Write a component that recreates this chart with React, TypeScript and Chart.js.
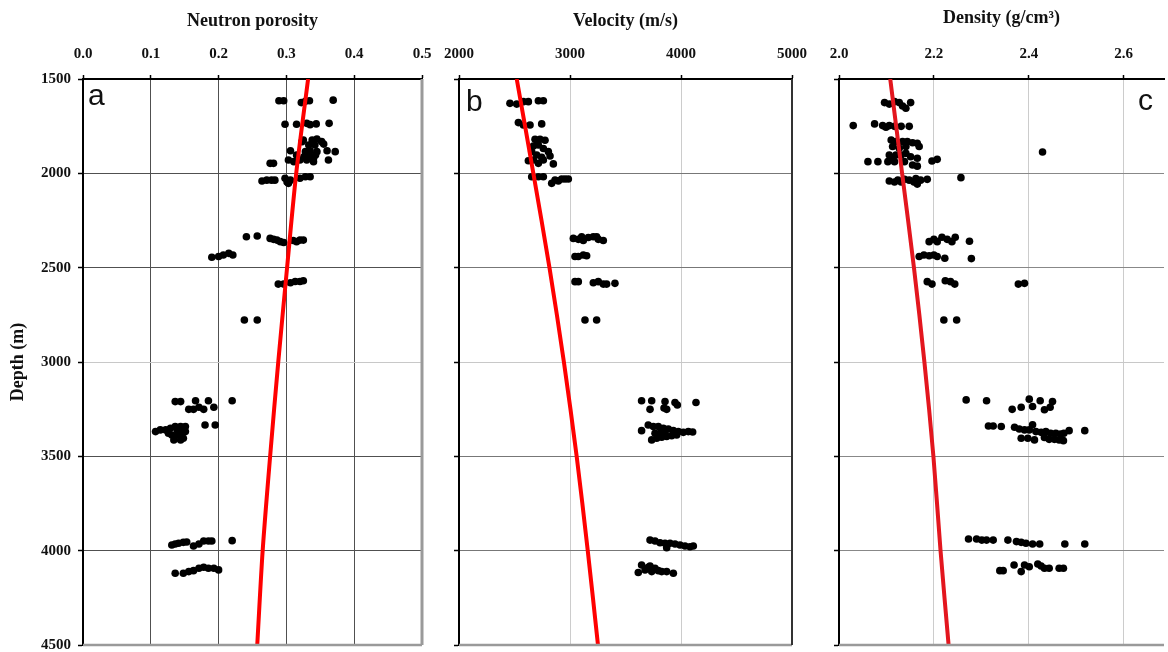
import React, { useEffect, useRef } from 'react';
import { Chart, registerables } from 'chart.js';

Chart.register(...registerables);

// ---------------- DATA ----------------
const depthTicks = [1500, 2000, 2500, 3000, 3500, 4000, 4500];
const porosityTicks = [0, 0.1, 0.2, 0.3, 0.4, 0.5];
const velocityTicks = [2000, 3000, 4000, 5000];
const densityTicks = [2.0, 2.2, 2.4, 2.6];

const trendDepths = [1500, 2000, 2500, 3000, 3500, 4000, 4500];
const porosityTrend = [0.332, 0.3145, 0.301, 0.288, 0.276, 0.265, 0.257];
const velocityTrend = [2520, 2670, 2815, 2945, 3060, 3160, 3252];
const densityTrend = [2.108, 2.133, 2.158, 2.18, 2.199, 2.214, 2.231];

// [value, depth]
const porosityPoints: [number, number][] = [
  [0.289, 1615], [0.296, 1615], [0.322, 1625], [0.328, 1618], [0.334, 1615], [0.369, 1612],
  [0.298, 1740], [0.315, 1740], [0.330, 1735], [0.335, 1742], [0.344, 1738], [0.363, 1735],
  [0.325, 1823], [0.338, 1823], [0.345, 1818], [0.352, 1832], [0.355, 1845], [0.342, 1850], [0.333, 1850], [0.323, 1832],
  [0.306, 1880], [0.315, 1903], [0.328, 1885], [0.335, 1880], [0.345, 1885], [0.360, 1880], [0.372, 1885], [0.362, 1929],
  [0.340, 1920], [0.330, 1929], [0.320, 1929], [0.303, 1929], [0.281, 1947], [0.276, 1947], [0.333, 1903], [0.326, 1912],
  [0.340, 1938], [0.343, 1903], [0.311, 1938],
  [0.264, 2041], [0.271, 2036], [0.278, 2036], [0.283, 2036], [0.298, 2026], [0.301, 2046], [0.303, 2053], [0.306, 2036],
  [0.320, 2026], [0.328, 2018], [0.335, 2018],
  [0.241, 2336], [0.257, 2332], [0.276, 2345], [0.281, 2350], [0.286, 2354], [0.291, 2362], [0.296, 2367], [0.310, 2356],
  [0.315, 2362], [0.320, 2354], [0.325, 2354],
  [0.190, 2445], [0.200, 2441], [0.207, 2433], [0.215, 2424], [0.221, 2433],
  [0.288, 2587], [0.296, 2587], [0.306, 2580], [0.313, 2573], [0.320, 2573], [0.325, 2569],
  [0.238, 2777], [0.257, 2777],
  [0.136, 3210], [0.144, 3210], [0.166, 3205], [0.185, 3205], [0.220, 3205],
  [0.156, 3251], [0.163, 3251], [0.171, 3240], [0.178, 3251], [0.193, 3240],
  [0.180, 3334], [0.195, 3334],
  [0.107, 3369], [0.114, 3360], [0.122, 3360], [0.129, 3351], [0.136, 3342], [0.144, 3342], [0.151, 3342], [0.131, 3387],
  [0.139, 3387], [0.146, 3378], [0.151, 3369], [0.134, 3413], [0.144, 3413], [0.148, 3404], [0.126, 3378], [0.139, 3360], [0.146, 3360],
  [0.131, 3970], [0.136, 3965], [0.141, 3961], [0.148, 3956], [0.153, 3954], [0.163, 3975], [0.171, 3965], [0.178, 3949],
  [0.185, 3949], [0.190, 3949], [0.220, 3947],
  [0.136, 4120], [0.148, 4120], [0.156, 4111], [0.163, 4106], [0.171, 4093], [0.178, 4088], [0.185, 4093], [0.193, 4093], [0.200, 4102],
];

const velocityPoints: [number, number][] = [
  [2459, 1629], [2520, 1633], [2580, 1620], [2625, 1620], [2715, 1615], [2760, 1615],
  [2535, 1731], [2580, 1744], [2640, 1744], [2745, 1738],
  [2685, 1820], [2730, 1820], [2775, 1825], [2670, 1855], [2715, 1850], [2760, 1868], [2805, 1885], [2820, 1908],
  [2655, 1885], [2700, 1903], [2745, 1915], [2625, 1933], [2670, 1929], [2760, 1929], [2850, 1950], [2715, 1947],
  [2655, 2018], [2715, 2018], [2760, 2018], [2835, 2053], [2865, 2035], [2895, 2040], [2925, 2030], [2955, 2030], [2985, 2030],
  [3030, 2345], [3075, 2350], [3120, 2356], [3165, 2340], [3210, 2336], [3255, 2350], [3300, 2356], [3105, 2336], [3240, 2336],
  [3045, 2441], [3075, 2441], [3120, 2433], [3150, 2437],
  [3045, 2574], [3075, 2574], [3210, 2580], [3255, 2574], [3300, 2587], [3330, 2587], [3405, 2583],
  [3135, 2777], [3240, 2777],
  [3645, 3205], [3736, 3205], [3721, 3251], [3856, 3210], [3871, 3251], [3946, 3215], [3967, 3228], [3847, 3244], [4135, 3215],
  [3645, 3364], [3705, 3334], [3751, 3342], [3796, 3342], [3841, 3351], [3886, 3355], [3931, 3364], [3976, 3369], [4021, 3373],
  [4066, 3369], [4105, 3371], [3736, 3413], [3781, 3404], [3826, 3399], [3871, 3395], [3916, 3391], [3961, 3387], [3766, 3378],
  [3811, 3378], [3856, 3378],
  [3721, 3944], [3766, 3949], [3811, 3958], [3856, 3961], [3871, 3984], [3901, 3961], [3946, 3965], [3991, 3970], [4036, 3975],
  [4081, 3979], [4111, 3975],
  [3615, 4116], [3645, 4076], [3676, 4102], [3705, 4088], [3736, 4111], [3766, 4093], [3796, 4106], [3826, 4111], [3871, 4111],
  [3931, 4120], [3721, 4081],
];

const densityPoints: [number, number][] = [
  [2.096, 1625], [2.106, 1633], [2.117, 1620], [2.127, 1625], [2.134, 1643], [2.141, 1655], [2.151, 1625],
  [2.030, 1747], [2.075, 1738], [2.092, 1747], [2.099, 1756], [2.106, 1747], [2.117, 1751], [2.131, 1751], [2.148, 1751],
  [2.110, 1823], [2.120, 1832], [2.134, 1832], [2.144, 1832], [2.155, 1838], [2.165, 1841], [2.113, 1858], [2.127, 1867],
  [2.141, 1858], [2.169, 1858], [2.106, 1903], [2.120, 1903], [2.131, 1903], [2.141, 1894], [2.151, 1912], [2.165, 1920],
  [2.061, 1938], [2.082, 1938], [2.103, 1938], [2.117, 1938], [2.138, 1938], [2.155, 1956], [2.165, 1962], [2.196, 1935],
  [2.207, 1926], [2.113, 1920], [2.429, 1887],
  [2.106, 2041], [2.117, 2046], [2.124, 2036], [2.131, 2046], [2.138, 2032], [2.148, 2036], [2.158, 2046], [2.165, 2057],
  [2.172, 2036], [2.186, 2032], [2.162, 2027], [2.257, 2023],
  [2.190, 2362], [2.200, 2350], [2.207, 2362], [2.217, 2339], [2.228, 2350], [2.238, 2362], [2.245, 2339], [2.275, 2360],
  [2.169, 2441], [2.179, 2433], [2.190, 2437], [2.200, 2433], [2.207, 2441], [2.223, 2450], [2.279, 2452],
  [2.186, 2574], [2.196, 2587], [2.224, 2569], [2.235, 2574], [2.244, 2587], [2.378, 2587], [2.391, 2583],
  [2.221, 2777], [2.248, 2777],
  [2.268, 3201], [2.311, 3205], [2.401, 3197], [2.424, 3205], [2.450, 3210], [2.365, 3251], [2.384, 3240], [2.408, 3236],
  [2.433, 3253], [2.445, 3240],
  [2.315, 3339], [2.325, 3339], [2.342, 3342], [2.370, 3346], [2.380, 3355], [2.391, 3360], [2.401, 3360], [2.408, 3333],
  [2.415, 3369], [2.426, 3373], [2.436, 3369], [2.446, 3378], [2.457, 3378], [2.467, 3382], [2.474, 3378], [2.485, 3364],
  [2.518, 3364], [2.384, 3404], [2.398, 3404], [2.412, 3413], [2.433, 3400], [2.443, 3410], [2.454, 3410], [2.464, 3413], [2.473, 3417],
  [2.273, 3938], [2.290, 3938], [2.301, 3944], [2.311, 3944], [2.325, 3944], [2.356, 3944], [2.374, 3952], [2.384, 3956],
  [2.394, 3961], [2.408, 3965], [2.423, 3965], [2.476, 3965], [2.518, 3965],
  [2.339, 4106], [2.346, 4106], [2.369, 4076], [2.384, 4111], [2.391, 4076], [2.401, 4085], [2.419, 4071], [2.426, 4081],
  [2.433, 4093], [2.443, 4093], [2.464, 4093], [2.473, 4093],
];

// ---------------- STYLE / LAYOUT ----------------
const SERIF = "'Liberation Serif', 'Times New Roman', serif";
const SANS = "'Liberation Sans', Arial, sans-serif";
const H = 652;

interface PanelCfg {
  left: number;
  width: number;
  areaLeft: number;
  areaRight: number;
  xMin: number;
  xMax: number;
  xTicks: number[];
  fmt: (v: number) => string;
  title: string;
  titlePad: number;
  letter: string;
  letterX: number;
  letterY: number;
  showDepth: boolean;
  points: [number, number][];
  trend: number[];
  lineColor: string;
  vGrid: string;
  hGrid: string;
  rightBorder: string | null;
  rightBorderWidth: number;
  bottomBorder: string;
}

const panels: PanelCfg[] = [
  {
    left: 0, width: 440, areaLeft: 83, areaRight: 422,
    xMin: 0, xMax: 0.5, xTicks: porosityTicks, fmt: (v) => v.toFixed(1),
    title: 'Neutron porosity', titlePad: 11,
    letter: 'a', letterX: 88, letterY: 105, showDepth: true,
    points: porosityPoints, trend: porosityTrend, lineColor: '#ff0000',
    vGrid: '#505050', hGrid: '#505050', rightBorder: '#9a9a9a', rightBorderWidth: 3, bottomBorder: '#9a9a9a',
  },
  {
    left: 440, width: 380, areaLeft: 19, areaRight: 352,
    xMin: 2000, xMax: 5000, xTicks: velocityTicks, fmt: (v) => String(Math.round(v)),
    title: 'Velocity (m/s)', titlePad: 11,
    letter: 'b', letterX: 26, letterY: 111, showDepth: false,
    points: velocityPoints, trend: velocityTrend, lineColor: '#ff0000',
    vGrid: '#cccccc', hGrid: '#777777', rightBorder: '#333333', rightBorderWidth: 2, bottomBorder: '#9a9a9a',
  },
  {
    left: 820, width: 348, areaLeft: 19, areaRight: 348,
    xMin: 2.0, xMax: 2.685, xTicks: densityTicks, fmt: (v) => v.toFixed(1),
    title: 'Density (g/cm³)', titlePad: 8,
    letter: 'c', letterX: 318, letterY: 110, showDepth: false,
    points: densityPoints, trend: densityTrend, lineColor: '#e3161e',
    vGrid: '#cccccc', hGrid: '#888888', rightBorder: null, rightBorderWidth: 0, bottomBorder: '#9a9a9a',
  },
];

const TRANSPARENT = 'rgba(0,0,0,0)';

function Panel({ cfg }: { cfg: PanelCfg }) {
  const ref = useRef<HTMLCanvasElement>(null);

  useEffect(() => {
    const canvas = ref.current;
    if (!canvas) return;

    const framePlugin = {
      id: 'frame' + cfg.letter,
      afterDraw(chart: any) {
        const { ctx, chartArea } = chart;
        const { left, right, top, bottom } = chartArea;
        ctx.save();
        ctx.strokeStyle = cfg.bottomBorder;
        ctx.lineWidth = 2.5;
        ctx.beginPath();
        ctx.moveTo(left, bottom);
        ctx.lineTo(right, bottom);
        ctx.stroke();
        if (cfg.rightBorder) {
          ctx.strokeStyle = cfg.rightBorder;
          ctx.lineWidth = cfg.rightBorderWidth;
          ctx.beginPath();
          ctx.moveTo(right, top);
          ctx.lineTo(right, bottom);
          ctx.stroke();
        }
        ctx.fillStyle = '#111';
        ctx.font = `30px ${SANS}`;
        ctx.textBaseline = 'alphabetic';
        ctx.textAlign = 'left';
        ctx.fillText(cfg.letter, cfg.letterX, cfg.letterY);
        ctx.restore();
      },
    };

    const chart = new Chart(canvas, {
      type: 'scatter',
      data: {
        datasets: [
          {
            data: cfg.trend.map((v, i) => ({ x: v, y: trendDepths[i] })),
            showLine: true,
            borderColor: cfg.lineColor,
            backgroundColor: cfg.lineColor,
            borderWidth: 4,
            pointRadius: 0,
            tension: 0.3,
            order: 0,
          },
          {
            data: cfg.points.map(([x, y]) => ({ x, y })),
            pointRadius: 3.8,
            pointBackgroundColor: '#000',
            backgroundColor: '#000',
            borderWidth: 0,
            order: 1,
          },
        ],
      } as any,
      options: {
        responsive: false,
        animation: false,
        events: [],
        layout: { padding: { left: 0, top: 0, right: cfg.width - cfg.areaRight, bottom: 7 } },
        plugins: {
          legend: { display: false },
          tooltip: { enabled: false },
          title: { display: false },
        },
        scales: {
          x: {
            type: 'linear',
            position: 'top',
            min: cfg.xMin,
            max: cfg.xMax,
            afterBuildTicks: (s: any) => {
              s.ticks = cfg.xTicks.map((v) => ({ value: v }));
            },
            afterFit: (s: any) => {
              s.height = 79;
              s.paddingLeft = 0;
              s.paddingRight = 0;
            },
            ticks: {
              callback: (v: any) => cfg.fmt(Number(v)),
              font: { family: SERIF, size: 15, weight: 'bold' },
              color: '#111',
              padding: 12,
              maxRotation: 0,
              autoSkip: false,
            },
            grid: {
              color: (ctx: any) => {
                const v = ctx.tick ? ctx.tick.value : null;
                if (v === null) return cfg.vGrid;
                if (Math.abs(v - cfg.xMin) < 1e-9 || Math.abs(v - cfg.xMax) < 1e-9) return TRANSPARENT;
                return cfg.vGrid;
              },
              lineWidth: 1,
              tickLength: 4,
              tickColor: '#000',
              tickWidth: 1.5,
            },
            border: { display: true, color: '#000', width: 2 },
            title: {
              display: true,
              text: cfg.title,
              color: '#111',
              font: { family: SERIF, size: 18, weight: 'bold' },
              padding: { top: cfg.titlePad, bottom: 0 },
            },
          },
          y: {
            type: 'linear',
            position: 'left',
            reverse: true,
            min: 1500,
            max: 4500,
            afterBuildTicks: (s: any) => {
              s.ticks = depthTicks.map((v) => ({ value: v }));
            },
            afterFit: (s: any) => {
              s.width = cfg.areaLeft;
              s.paddingTop = 0;
              s.paddingBottom = 0;
            },
            ticks: {
              display: cfg.showDepth,
              callback: (v: any) => String(v),
              font: { family: SERIF, size: 15, weight: 'bold' },
              color: '#111',
              padding: 7,
            },
            grid: {
              color: (ctx: any) => {
                const v = ctx.tick ? ctx.tick.value : null;
                if (v === 1500 || v === 4500) return TRANSPARENT;
                if (v === 3000) return '#c8c8c8';
                return cfg.hGrid;
              },
              lineWidth: 1,
              tickLength: 5,
              tickColor: '#000',
              tickWidth: 1.5,
            },
            border: { display: true, color: '#000', width: 2 },
            title: {
              display: cfg.showDepth,
              text: 'Depth (m)',
              color: '#111',
              font: { family: SERIF, size: 18, weight: 'bold' },
              padding: { top: 8, bottom: 0 },
            },
          },
        },
      } as any,
      plugins: [framePlugin],
    });

    return () => chart.destroy();
  }, [cfg]);

  return (
    <canvas
      ref={ref}
      width={cfg.width}
      height={H}
      style={{ position: 'absolute', left: cfg.left, top: 0, width: cfg.width, height: H }}
    />
  );
}

export default function App() {
  return (
    <div
      style={{
        position: 'fixed',
        left: 0,
        top: 0,
        width: 1168,
        height: H,
        background: '#ffffff',
        overflow: 'hidden',
      }}
    >
      {panels.map((p) => (
        <Panel key={p.letter} cfg={p} />
      ))}
    </div>
  );
}
